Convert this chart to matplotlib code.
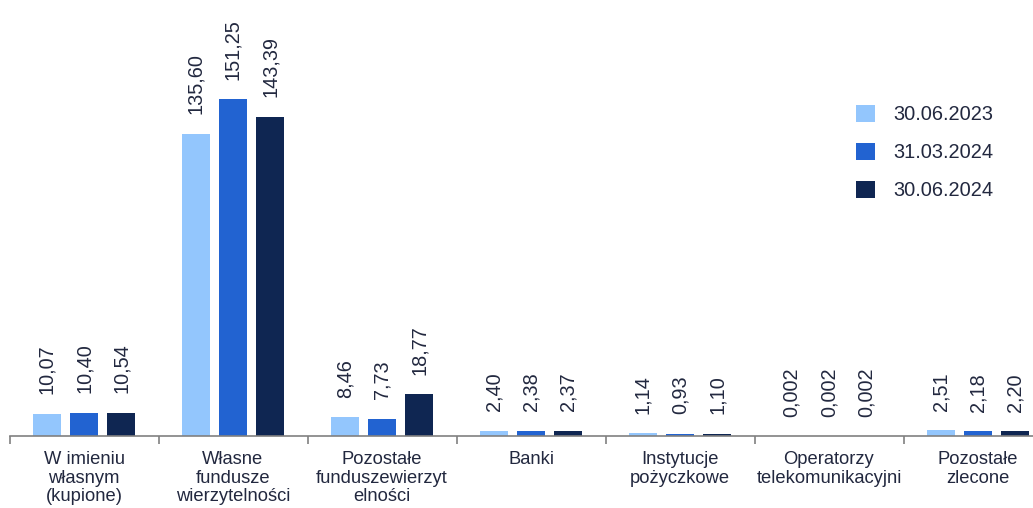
import matplotlib
matplotlib.use("Agg")
import matplotlib.pyplot as plt
from matplotlib.patches import Patch
import numpy as np

plt.rcParams['font.family'] = ['Liberation Sans', 'DejaVu Sans']

categories = ["W imieniu\nwłasnym\n(kupione)", "Własne\nfundusze\nwierzytelności",
              "Pozostałe\nfunduszewierzyt\nelności", "Banki", "Instytucje\npożyczkowe",
              "Operatorzy\ntelekomunikacyjni", "Pozostałe\nzlecone"]
series_names = ["30.06.2023", "31.03.2024", "30.06.2024"]
v2023 = [10.07, 135.60, 8.46, 2.40, 1.14, 0.002, 2.51]
v2024q1 = [10.40, 151.25, 7.73, 2.38, 0.93, 0.002, 2.18]
v2024 = [10.54, 143.39, 18.77, 2.37, 1.10, 0.002, 2.20]
labels2023 = ["10,07", "135,60", "8,46", "2,40", "1,14", "0,002", "2,51"]
labels2024q1 = ["10,40", "151,25", "7,73", "2,38", "0,93", "0,002", "2,18"]
labels2024 = ["10,54", "143,39", "18,77", "2,37", "1,10", "0,002", "2,20"]

colors = ["#93c6fd", "#2263d1", "#0f2652"]
text_color = "#22283f"

W, H = 1033, 508
fig = plt.figure(figsize=(W / 100, H / 100), dpi=100)
ax = fig.add_axes([9.5 / W, 72 / H, 1043 / W, 416 / H])

x = np.arange(len(categories))
offsets = [-0.25, 0.0, 0.25]
width = 0.19
all_vals = [v2023, v2024q1, v2024]
all_labels = [labels2023, labels2024q1, labels2024]
for vals, labs, off, col in zip(all_vals, all_labels, offsets, colors):
    bars = ax.bar(x + off, vals, width=width, color=col)
    for b, lab in zip(bars, labs):
        ax.annotate(lab, (b.get_x() + b.get_width() / 2, b.get_height()),
                    xytext=(0, 14), textcoords="offset points", rotation=90,
                    ha="center", va="bottom", fontsize=14.3, color=text_color)

ax.set_xlim(-0.5, len(categories) - 0.5)
ax.set_ylim(0, 186.7)
for s in ["top", "right", "left"]:
    ax.spines[s].set_visible(False)
ax.spines["bottom"].set_color("#808080")
ax.spines["bottom"].set_linewidth(1.2)
ax.set_yticks([])
ax.set_xticks(x)
ax.set_xticklabels(categories, fontsize=13.2, color=text_color, linespacing=1.1)
ax.tick_params(axis="x", which="major", length=0, pad=11)
ax.set_xticks(np.arange(-0.5, len(categories)), minor=True)
ax.tick_params(axis="x", which="minor", length=6, width=1.2, color="#808080", direction="out")

handles = [Patch(facecolor=c, edgecolor="none") for c in colors]
fig.legend(handles, series_names, loc="upper left", bbox_to_anchor=(856 / W, 1 - 105 / H),
           frameon=False, fontsize=14.4, handlelength=0.95, handleheight=0.95,
           handletextpad=0.9, labelspacing=0.92, labelcolor=text_color,
           borderaxespad=0, borderpad=0)

fig.savefig("out.png", dpi=100)
